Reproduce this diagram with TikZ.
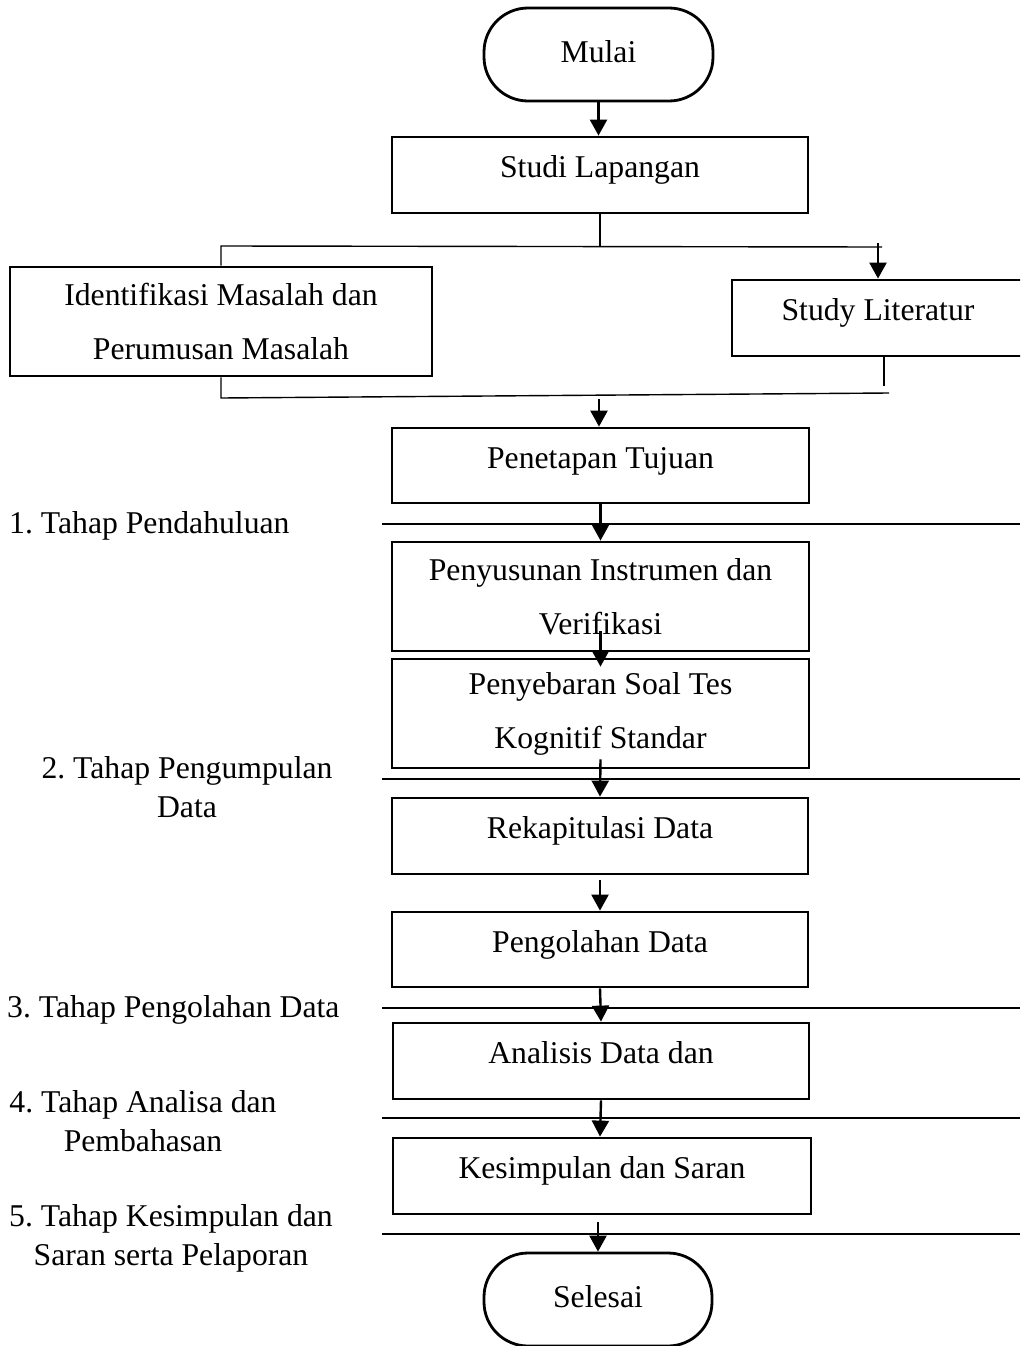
\documentclass[tikz,border=0pt]{standalone}
\usepackage{fontspec}
\setmainfont{Liberation Serif}
\frenchspacing
\usetikzlibrary{arrows.meta}
\tikzset{
  every node/.style={font=\fontsize{31.7pt}{54pt}\selectfont, inner sep=0pt},
  procbox/.style={draw, line width=2.8pt, rectangle, align=center},
  onebox/.style={procbox, text height=15pt, text depth=10pt},
  termbox/.style={draw, line width=2.8pt, rectangle, rounded corners=44pt, text height=18pt, text depth=2pt},
  arr/.style={line width=2.4pt, -{Triangle[length=16pt,width=17pt]}},
  thinline/.style={line width=1.4pt},
  sepline/.style={line width=2.4pt},
  phase/.style={align=center, font=\fontsize{31.7pt}{39pt}\selectfont}
}
\begin{document}
\begin{tikzpicture}[x=1pt,y=-1pt]
\useasboundingbox (0,0) rectangle (1020,1346);
\clip (0,0) rectangle (1020,1346);
\fill[white] (0,0) rectangle (1020,1346);

% boxes
\node[termbox, minimum width=229pt, minimum height=93pt] (mulai) at (598.5,54.5) {Mulai};
\node[onebox, minimum width=416pt, minimum height=76pt] (studi) at (600,175) {Studi Lapangan};
\node[procbox, minimum width=422pt, minimum height=109pt] (idm) at (221,321.5) {Identifikasi Masalah dan\\Perumusan Masalah};
\node[onebox, minimum width=292pt, minimum height=76pt] (sl) at (878,318) {Study Literatur};
\node[onebox, minimum width=417pt, minimum height=75pt] (pen) at (600.5,465.5) {Penetapan Tujuan};
\node[procbox, minimum width=417pt, minimum height=109pt] (pny) at (600.5,596.5) {Penyusunan Instrumen dan\\Verifikasi};
\node[procbox, minimum width=417pt, minimum height=109pt] (pyb) at (600.5,713.5) {Penyebaran Soal Tes\\Kognitif Standar};
\node[onebox, minimum width=416pt, minimum height=76pt] (rek) at (600,836) {Rekapitulasi Data};
\node[onebox, minimum width=416pt, minimum height=75pt] (pgl) at (600,949.5) {Pengolahan Data};
\node[onebox, minimum width=416pt, minimum height=76pt] (ana) at (601,1061) {Analisis Data dan};
\node[onebox, minimum width=418pt, minimum height=76pt] (kes) at (602,1176) {Kesimpulan dan Saran};
\node[termbox, minimum width=228pt, minimum height=93pt] (sel) at (598,1299.5) {Selesai};

% phase labels
\node[anchor=base west] (ph1) at (9,533) {1. Tahap Pendahuluan};
\node[phase] (ph2) at (187,786.7) {2. Tahap Pengumpulan\\Data};
\node[anchor=base west] (ph3) at (7,1017) {3. Tahap Pengolahan Data};
\node[phase] (ph4) at (143,1121.2) {4. Tahap Analisa dan\\Pembahasan};
\node[phase] (ph5) at (171,1238.7) {5. Tahap Kesimpulan dan\\Saran serta Pelaporan};

% separators
\draw[sepline] (382,524) -- (1020,524);
\draw[sepline] (382,779) -- (1020,779);
\draw[sepline] (382,1008) -- (1020,1008);
\draw[sepline] (382,1118) -- (1020,1118);
\draw[sepline] (382,1234) -- (1020,1234);

% connectors
\draw[arr] (mulai.south) -- (mulai.south |- studi.north);

\coordinate (jt) at (600,246);
\coordinate (jr) at (882,247);
\coordinate (ja) at (878,243);
\draw[thinline] (studi.south) -- (jt);
\draw[thinline] (idm.north) -- (idm.north |- jt) -- (jr);
\draw[arr] (ja) -- (sl.north);

\coordinate (ml) at (221,398);
\coordinate (mr) at (889,393);
\coordinate (mrv) at (884,386);
\coordinate (ma) at (599,399);
\draw[thinline] (idm.south) -- (ml) -- (mr);
\draw[thinline] ([xshift=6pt]sl.south) -- (mrv);
\draw[arr] (ma) -- (ma |- pen.north);

\draw[arr] (pen.south) -- (pny.north);
\draw[arr] ([yshift=21pt]pny.south) -- ([yshift=-9pt]pyb.north);
\draw[arr] ([yshift=10pt]pyb.south) -- (rek.north);
\draw[arr] ([yshift=-5pt]rek.south) -- (pgl.north);
\draw[arr] (pgl.south) -- (ana.north);
\draw[arr] (ana.south) -- ([xshift=-2pt]kes.north);
\draw[arr] ([yshift=-7pt,xshift=-4pt]kes.south) -- (sel.north);
\end{tikzpicture}
\end{document}
